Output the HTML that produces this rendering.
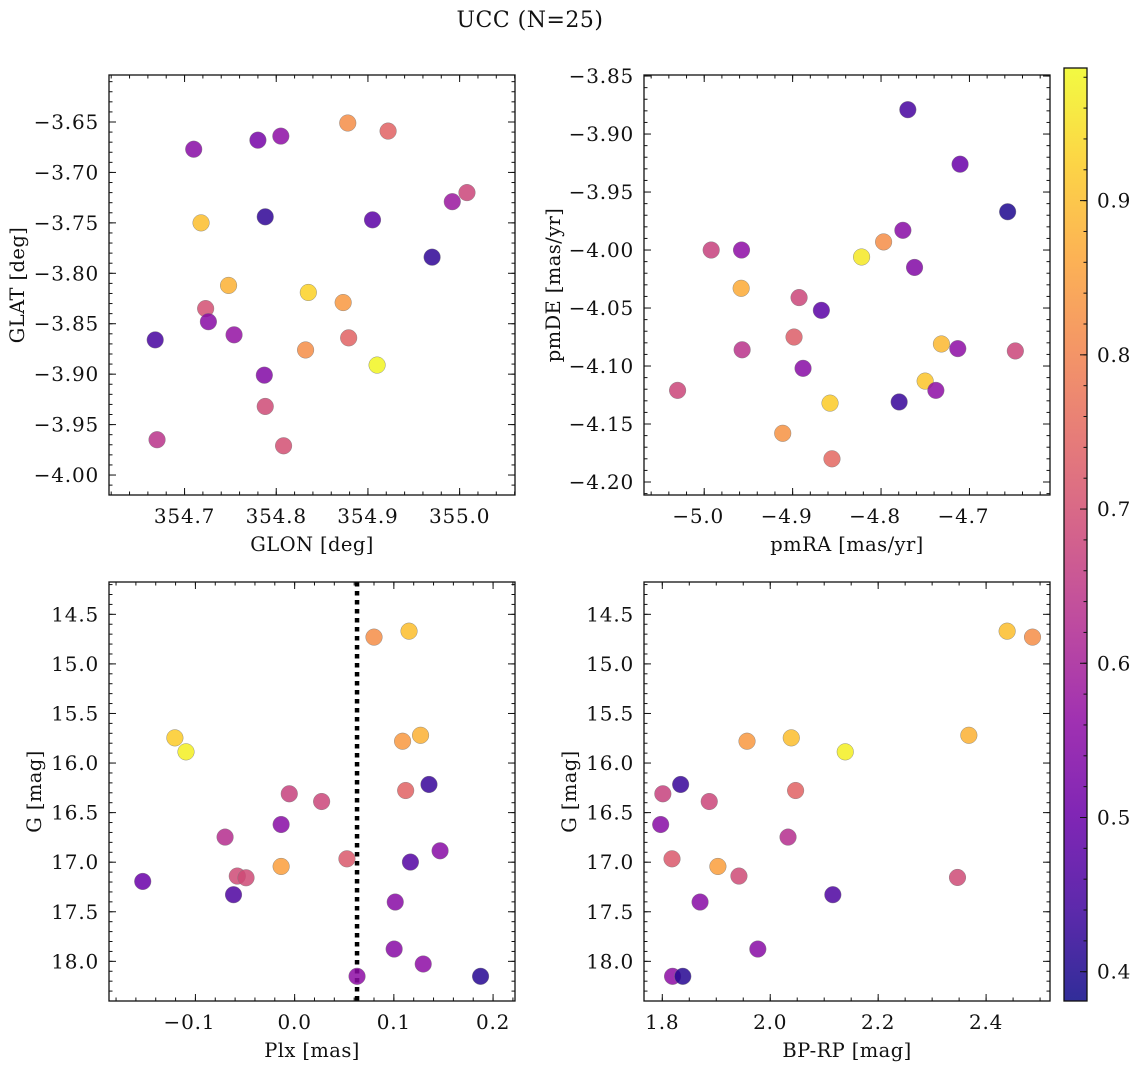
<!DOCTYPE html>
<html><head><meta charset="utf-8"><style>
html,body{margin:0;padding:0;background:#fff;}
svg text{font-family:"DejaVu Serif","Liberation Serif",serif;fill:#111;}
.tk{font-size:20px;letter-spacing:0.8px;}
.ax{font-size:19.5px;letter-spacing:0.4px;}
</style></head><body>
<svg id="fig" width="1136" height="1068" viewBox="0 0 1136 1068" xmlns="http://www.w3.org/2000/svg">
<text x="530" y="27" font-size="22" letter-spacing="0.5" text-anchor="middle">UCC (N=25)</text>
</svg>
<script>
// ---- data: GLON vs GLAT ----
const glonX = [354.710,354.780,354.805,354.878,354.922,355.008,354.992,354.718,354.788,354.905,354.970,354.748,354.835,354.873,354.723,354.726,354.754,354.668,354.879,354.832,354.910,354.787,354.788,354.670,354.808];
const glatY = [-3.677,-3.668,-3.664,-3.651,-3.659,-3.720,-3.729,-3.750,-3.744,-3.747,-3.784,-3.812,-3.819,-3.829,-3.835,-3.848,-3.861,-3.866,-3.864,-3.876,-3.891,-3.901,-3.932,-3.965,-3.971];
const glC = [0.55,0.52,0.56,0.82,0.74,0.68,0.58,0.90,0.42,0.48,0.42,0.88,0.93,0.84,0.70,0.55,0.57,0.45,0.74,0.82,0.98,0.54,0.69,0.64,0.70];
// ---- data: pmRA vs pmDE ----
const pmraX = [-4.7697,-4.7106,-4.6568,-4.7753,-4.7971,-4.9921,-4.9578,-4.822,-4.7621,-4.9582,-4.8927,-4.8675,-4.8984,-4.7317,-4.7132,-4.6481,-4.9571,-4.8882,-4.7501,-4.738,-5.0301,-4.8577,-4.7795,-4.9112,-4.8555];
const pmdeY = [-3.879,-3.926,-3.967,-3.983,-3.993,-4.000,-4.000,-4.006,-4.015,-4.033,-4.041,-4.052,-4.075,-4.081,-4.085,-4.087,-4.086,-4.102,-4.113,-4.121,-4.121,-4.132,-4.131,-4.158,-4.180];
const pmC = [0.45,0.50,0.40,0.55,0.82,0.67,0.56,0.96,0.54,0.87,0.68,0.48,0.73,0.89,0.56,0.68,0.64,0.55,0.91,0.56,0.68,0.92,0.43,0.83,0.75];
// ---- data: Plx vs G ----
const plxX = [0.080,0.1153,-0.1207,-0.1095,0.1088,0.1269,0.1354,0.1119,-0.0054,0.0272,-0.0136,-0.0701,0.0527,-0.0136,0.1466,0.1167,-0.0578,-0.049,-0.1531,-0.0616,0.1014,0.1003,0.1296,0.0629,0.1874];
const plxG = [14.73,14.67,15.746,15.887,15.78,15.72,16.216,16.277,16.31,16.388,16.62,16.747,16.966,17.043,16.885,16.999,17.14,17.157,17.194,17.328,17.402,17.876,18.027,18.151,18.151];
const plxC = [0.82,0.90,0.92,0.97,0.84,0.88,0.43,0.74,0.67,0.68,0.55,0.63,0.72,0.85,0.55,0.47,0.69,0.69,0.50,0.46,0.55,0.55,0.56,0.56,0.41];
const plxRef = [0.0629];
// ---- data: BP-RP vs G ----
const bprpX = [2.439,2.486,1.957,2.039,2.139,2.368,1.834,1.801,1.887,2.047,1.797,2.033,1.818,1.903,1.942,2.347,2.116,1.870,1.977,1.819,1.838];
const bprpG = [14.67,14.73,15.78,15.746,15.887,15.72,16.216,16.31,16.388,16.277,16.62,16.747,16.966,17.043,17.14,17.154,17.328,17.402,17.876,18.151,18.151];
const bprpC = [0.90,0.82,0.84,0.90,0.97,0.88,0.43,0.67,0.68,0.74,0.55,0.63,0.72,0.85,0.69,0.69,0.46,0.55,0.55,0.56,0.41];
// ---- tick labels ----
const tlXTicks = [354.7,354.8,354.9,355.0];
const tlYTicks = [-3.65,-3.70,-3.75,-3.80,-3.85,-3.90,-3.95,-4.00];
const trXTicks = [-5.0,-4.9,-4.8,-4.7];
const trYTicks = [-3.85,-3.90,-3.95,-4.00,-4.05,-4.10,-4.15,-4.20];
const blXTicks = [-0.1,0.0,0.1,0.2];
const gTicks = [14.5,15.0,15.5,16.0,16.5,17.0,17.5,18.0];
const brXTicks = [1.8,2.0,2.2,2.4];
const cbTicks = [0.4,0.5,0.6,0.7,0.8,0.9];
const cMin = 0.381, cMax = 0.986;

const NS = 'http://www.w3.org/2000/svg';
const svg = document.getElementById('fig');
function mk(tag, attrs, parent){
  const e = document.createElementNS(NS, tag);
  for (const k in attrs) e.setAttribute(k, attrs[k]);
  (parent||svg).appendChild(e);
  return e;
}
const stops = [[13,8,135],[65,4,157],[106,0,168],[143,13,164],[177,42,144],[204,71,120],[225,100,98],[242,132,75],[252,166,54],[252,206,37],[240,249,33]];
function plasma(t){
  t = Math.max(0, Math.min(1, t));
  const p = t*10, i = Math.min(9, Math.floor(p)), f = p - i;
  const a = stops[i], b = stops[i+1];
  return 'rgb(' + [0,1,2].map(k => Math.round(a[k]+(b[k]-a[k])*f)).join(',') + ')';
}
function fmt(v, d){ const s = Math.abs(v).toFixed(d); return (v < -1e-9 ? '\u2212' : '') + s; }

function panel(o){
  const g = mk('g', {});
  
  
  const sx = v => o.L + (v - o.x0)/(o.x1 - o.x0)*(o.R - o.L);
  const sy = v => o.T + (v - o.y0)/(o.y1 - o.y0)*(o.B - o.T);
  const tg = mk('g', {stroke:'#111','stroke-width':1}, g);
  const eps = 1e-9;
  function ticksX(step, len){
    let s = Math.ceil(Math.min(o.x0,o.x1)/step - eps)*step;
    for (let v = s; v <= Math.max(o.x0,o.x1)+eps; v += step){
      const x = sx(v);
      mk('line', {x1:x,x2:x,y1:o.B,y2:o.B-len}, tg);
      mk('line', {x1:x,x2:x,y1:o.T,y2:o.T+len}, tg);
    }
  }
  function ticksY(step, len){
    let s = Math.ceil(Math.min(o.y0,o.y1)/step - eps)*step;
    for (let v = s; v <= Math.max(o.y0,o.y1)+eps; v += step){
      const y = sy(v);
      mk('line', {x1:o.L,x2:o.L+len,y1:y,y2:y}, tg);
      mk('line', {x1:o.R,x2:o.R-len,y1:y,y2:y}, tg);
    }
  }
  ticksX(o.xMinor, 3.5); ticksY(o.yMinor, 3.5);
  ticksX(o.xMajor, 7); ticksY(o.yMajor, 7);
  if (o.vline){
    o.vline.forEach(v => {
      const l = mk('line', {x1:sx(v),x2:sx(v),y1:o.T,y2:o.B,stroke:'#000','stroke-width':4.5,'stroke-dasharray':'4.5 4.5'}, g);
      
      
    });
  }
  o.xs.forEach((xv, i) => {
    const c = mk('circle', {cx:sx(xv), cy:sy(o.ys[i]), r:8.3, fill:plasma((o.cs[i]-cMin)/(cMax-cMin)), 'fill-opacity':0.85, stroke:'#777','stroke-width':0.4}, g);
    
    
  });
  mk('rect', {x:o.L,y:o.T,width:o.R-o.L,height:o.B-o.T,fill:'none',stroke:'#111','stroke-width':1.3}, g);
  o.xt.forEach(v => {
    const t = mk('text', {x:sx(v)-(v<0?6:0), y:o.B+28, 'class':'tk', 'text-anchor':'middle'}, g);
    t.textContent = fmt(v, o.xd);
    
    
  });
  o.yt.forEach(v => {
    const t = mk('text', {x:o.L-10, y:sy(v)+7, 'class':'tk', 'text-anchor':'end'}, g);
    t.textContent = fmt(v, o.yd);
    
    
  });
  const xl = mk('text', {x:(o.L+o.R)/2, y:o.B+56, 'class':'ax', 'text-anchor':'middle'}, g);
  xl.textContent = o.xlabel;
  
  
  const yx = o.ylx, yy = (o.T+o.B)/2;
  const yl = mk('text', {x:yx, y:yy, 'class':'ax', 'text-anchor':'middle', transform:'rotate(-90 '+yx+' '+yy+')'}, g);
  yl.textContent = o.ylabel;
  
  
}

panel({name:'glon-glat-panel', L:109,R:515,T:75,B:495, x0:354.6176,x1:355.0604, y0:-3.6034,y1:-4.0198,
  xMajor:0.1,xMinor:0.02,yMajor:0.05,yMinor:0.01, xs:glonX,ys:glatY,cs:glC, xt:tlXTicks,yt:tlYTicks,xd:1,yd:2,
  xlabel:'GLON [deg]', ylabel:'GLAT [deg]', ylx:24});
panel({name:'pm-panel', L:644,R:1050,T:75,B:495, x0:-5.0681,x1:-4.6089, y0:-3.8491,y1:-4.2112,
  xMajor:0.1,xMinor:0.02,yMajor:0.05,yMinor:0.01, xs:pmraX,ys:pmdeY,cs:pmC, xt:trXTicks,yt:trYTicks,xd:1,yd:2,
  xlabel:'pmRA [mas/yr]', ylabel:'pmDE [mas/yr]', ylx:560});
panel({name:'plx-g-panel', L:109,R:515,T:582,B:1001, x0:-0.1871,x1:0.2221, y0:14.174,y1:18.40,
  xMajor:0.1,xMinor:0.02,yMajor:0.5,yMinor:0.1, xs:plxX,ys:plxG,cs:plxC, xt:blXTicks,yt:gTicks,xd:1,yd:1,
  xlabel:'Plx [mas]', ylabel:'G [mag]', ylx:41, vline:plxRef});
panel({name:'cmd-panel', L:644,R:1050,T:582,B:1001, x0:1.7661,x1:2.5184, y0:14.174,y1:18.40,
  xMajor:0.2,xMinor:0.05,yMajor:0.5,yMinor:0.1, xs:bprpX,ys:bprpG,cs:bprpC, xt:brXTicks,yt:gTicks,xd:1,yd:1,
  xlabel:'BP-RP [mag]', ylabel:'G [mag]', ylx:576});

(function(){
  const L=1064,R=1087,T=68,B=1001;
  const g = mk('g', {});
  
  
  const defs = mk('defs', {}, g);
  const lg = mk('linearGradient', {id:'cbg', x1:0,y1:1,x2:0,y2:0}, defs);
  for (let i = 0; i <= 20; i++){
    mk('stop', {offset:(i/20), 'stop-color':plasma(i/20)}, lg);
  }
  mk('rect', {x:L,y:T,width:R-L,height:B-T,fill:'url(#cbg)','fill-opacity':0.85}, g);
  const sy = v => B - (v-cMin)/(cMax-cMin)*(B-T);
  for (let v = Math.ceil(cMin/0.02)*0.02; v <= cMax; v += 0.02){
    mk('line', {x1:R,x2:R-3.5,y1:sy(v),y2:sy(v),stroke:'#111','stroke-width':1}, g);
  }
  cbTicks.forEach(v => {
    mk('line', {x1:R,x2:R-7,y1:sy(v),y2:sy(v),stroke:'#111','stroke-width':1}, g);
    const t = mk('text', {x:R+10, y:sy(v)+7, 'class':'tk'}, g);
    t.textContent = v.toFixed(1);
    
    
  });
  mk('rect', {x:L,y:T,width:R-L,height:B-T,fill:'none',stroke:'#111','stroke-width':1.3}, g);
})();
</script>
</body></html>
